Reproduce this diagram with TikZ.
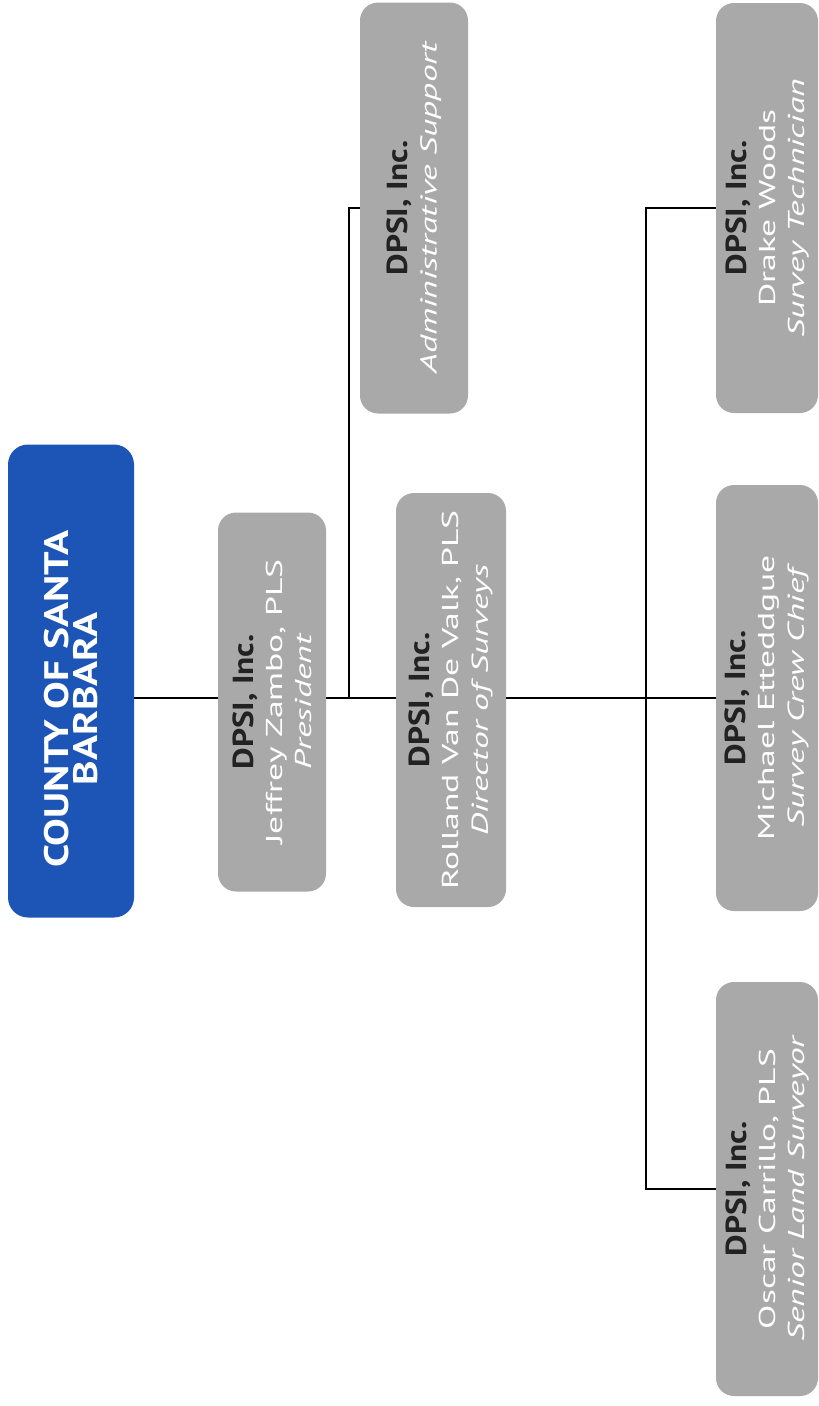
\documentclass[tikz,border=0pt]{standalone}
\usepackage{fontspec}
\setmainfont{PT Sans}
\newfontfamily\firmfont[FakeStretch=1.15]{PT Sans}
\newfontfamily\bodyfont[FakeStretch=1.55]{PT Sans}
\newfontfamily\countyfont[FakeStretch=1.22]{PT Sans}
\definecolor{boxgrey}{HTML}{A9A9A9}
\definecolor{countyblue}{HTML}{1C55B6}
\definecolor{dark}{HTML}{222222}
\tikzset{
  gbox/.style={rounded corners=18pt, fill=boxgrey, rotate=90, align=center, inner sep=0pt, text=white,
    font=\bodyfont\fontsize{23}{29}\selectfont},
  bbox/.style={rounded corners=20pt, fill=countyblue, rotate=90, inner sep=0pt},
  btext/.style={rotate=90, align=center, inner sep=0pt, text=white,
    font=\countyfont\fontsize{34}{29}\selectfont\bfseries},
  link/.style={draw=black, line width=1.8pt},
}
\newcommand{\firm}{{\firmfont\fontsize{29}{29}\selectfont\bfseries\color{dark}DPSI, Inc.}}
\newcommand{\who}[2]{\firm\\#1\\\itshape #2}
\begin{document}
\begin{tikzpicture}[x=1pt,y=-1pt]
\useasboundingbox (0,0) rectangle (819,1406);
\node[bbox, minimum width=473pt, minimum height=126pt] (county) at (71,681) {};
\node[btext] (countytext) at (71,699) {COUNTY OF SANTA\\BARBARA};
\node[gbox, minimum width=379pt, minimum height=108pt] (zambo) at (272,702)
  {\who{Jeffrey Zambo, PLS}{President}};
\node[gbox, minimum width=414pt, minimum height=110pt] (vdv) at (451,700)
  {\who{Rolland Van De Valk, PLS}{Director of Surveys}};
\node[gbox, minimum width=411pt, minimum height=108pt] (admin) at (414,208)
  {\firm\\\itshape Administrative Support};
\node[gbox, minimum width=410pt, minimum height=102pt] (drake) at (767,208)
  {\who{Drake Woods}{Survey Technician}};
\node[gbox, minimum width=426pt, minimum height=102pt] (ett) at (767,698)
  {\who{Michael Etteddgue}{Survey Crew Chief}};
\node[gbox, minimum width=414pt, minimum height=102pt] (carr) at (767,1189)
  {\who{Oscar Carrillo, PLS}{Senior Land Surveyor}};
\coordinate (main) at (0,698);
\coordinate (j1) at (349,698);
\coordinate (j2) at (646,698);
\draw[link] (county.south |- main) -- (zambo.north |- main);
\draw[link] (zambo.south |- main) -- (vdv.north |- main);
\draw[link] (j1) |- (admin.north);
\draw[link] (vdv.south |- main) -- (ett.north |- main);
\draw[link] (drake.north) -| (j2) |- (carr.north);
\end{tikzpicture}
\end{document}
